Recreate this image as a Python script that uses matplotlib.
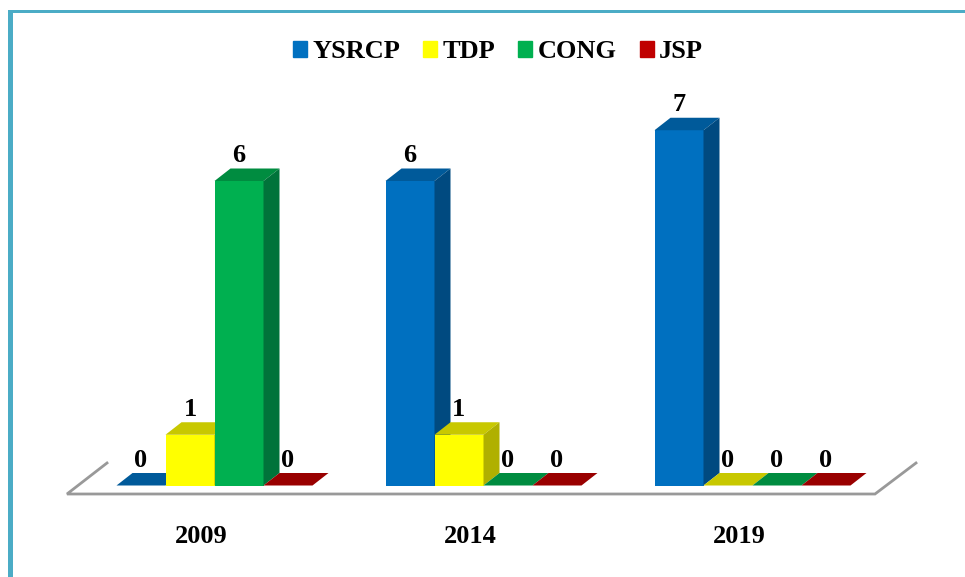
import matplotlib
matplotlib.use("Agg")
import matplotlib.pyplot as plt
from matplotlib.patches import Polygon, Patch, Rectangle

plt.rcParams['font.family'] = ['Liberation Serif', 'DejaVu Serif']
plt.rcParams['font.weight'] = 'bold'

years = ['2009', '2014', '2019']
parties = ['YSRCP', 'TDP', 'CONG', 'JSP']
ysrcp = [0, 6, 7]
tdp = [1, 1, 0]
cong = [6, 0, 0]
jsp = [0, 0, 0]
series = [ysrcp, tdp, cong, jsp]

front = ['#0070C0', '#FFFF00', '#00B050', '#C00000']
top = ['#005A9A', '#C8C800', '#008C40', '#990000']
side = ['#004A80', '#B0B000', '#00733A', '#7A0000']
border = '#4BACC6'
floor = '#999999'

W, H = 965, 577
# pixel layout of the plot
group_px = 269.0
unit_px = 50.75
first_px = 116.5
base_py = 485.5
floor_py = 494.0
bar_w = 49.0 / group_px
dx = 16.0 / group_px
dy = 12.5 / unit_px

fig = plt.figure(figsize=(W / 100, H / 100), dpi=100)
ax = fig.add_axes([0, (H - floor_py) / H, 1, floor_py / H])
ax.set_xlim(-first_px / group_px, (W - first_px) / group_px)
ax.set_ylim(-(floor_py - base_py) / unit_px, base_py / unit_px)


def px(x):
    return (x - first_px) / group_px


def py(y):
    return (base_py - y) / unit_px


for i, vals in enumerate(series):
    for g, v in enumerate(vals):
        x0 = g + i * bar_w
        x1 = x0 + bar_w
        ax.bar(x0, v, bar_w, align='edge', color=front[i], zorder=3 + i)
        ax.add_patch(Polygon([(x0, v), (x1, v), (x1 + dx, v + dy), (x0 + dx, v + dy)],
                             color=top[i], lw=0, zorder=3 + i))
        if v > 0:
            ax.add_patch(Polygon([(x1, 0), (x1 + dx, dy), (x1 + dx, v + dy), (x1, v)],
                                 color=side[i], lw=0, zorder=3 + i))
        ax.annotate(str(v), (x0 + bar_w / 2, v + dy), xytext=(0, 1), textcoords='offset points',
                    ha='center', va='bottom', fontsize=19, fontweight='bold', zorder=10)

# floor of the 3d box
ax.plot([px(107), px(67), px(875), px(916)], [py(463), py(494), py(494), py(463)],
        color=floor, lw=2, clip_on=False, zorder=1, solid_joinstyle='miter')

for s in ax.spines.values():
    s.set_visible(False)
ax.set_yticks([])
ax.set_xticks([g + px(201) for g in range(len(years))])
ax.set_xticklabels(years, fontsize=19, fontweight='bold')
ax.tick_params(axis='x', length=0, pad=22)
ax.patch.set_alpha(0)

handles = [Patch(color=c, label=p) for c, p in zip(front, parties)]
ax.legend(handles=handles, ncol=4, frameon=False, loc='center',
          bbox_to_anchor=(498 / W, 1 - 52 / H), bbox_transform=fig.transFigure,
          fontsize=19, handlelength=0.53, handleheight=0.53, handletextpad=0.2,
          columnspacing=0.87, borderpad=0, labelspacing=0)

# frame round the slide, top and left only
fig.add_artist(Rectangle((8 / W, 0), 5.3 / W, 1 - 10 / H, transform=fig.transFigure, color=border, lw=0))
fig.add_artist(Rectangle((8 / W, 1 - 13 / H), 1, 3 / H, transform=fig.transFigure, color=border, lw=0))

fig.savefig('out.png', dpi=100)
